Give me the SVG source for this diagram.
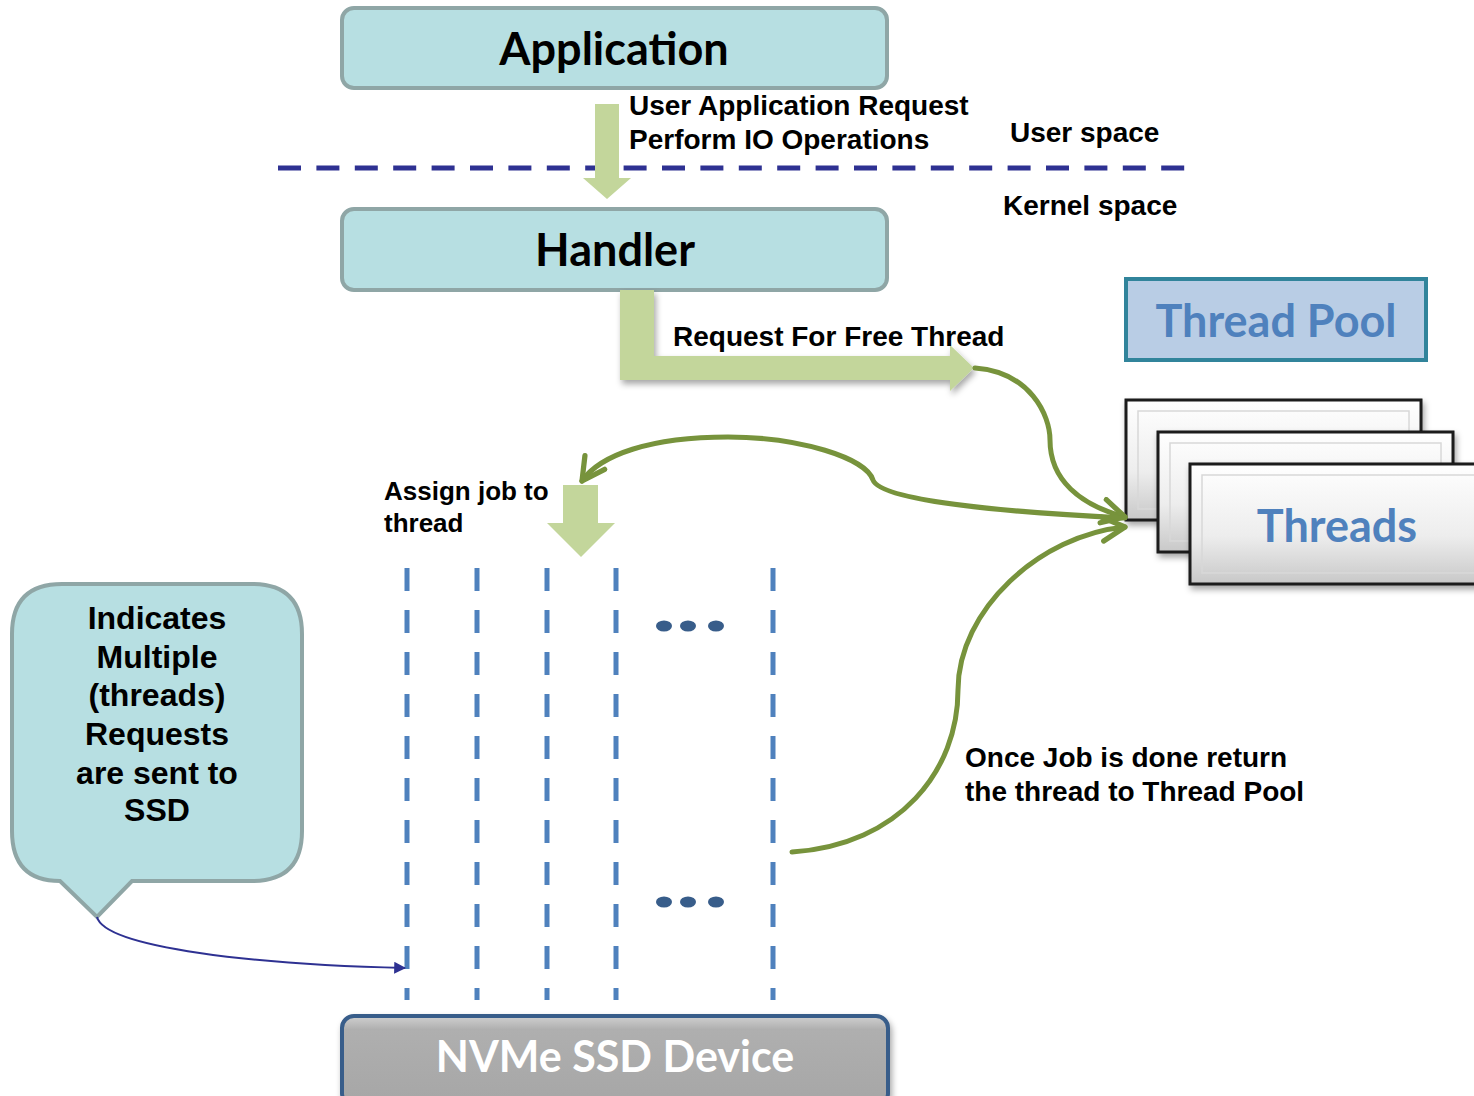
<svg xmlns="http://www.w3.org/2000/svg" width="1474" height="1096" viewBox="0 0 1474 1096">
<defs>
<style>
.lbl{font-family:"Liberation Sans",Arial,sans-serif;font-weight:bold;font-size:28px;fill:#000}
.lbl2{font-family:"Liberation Sans",Arial,sans-serif;font-weight:bold;font-size:26px;fill:#000}
.big{font-family:Lato,"Open Sans",sans-serif;font-weight:bold;font-size:45px;text-anchor:middle}
.box{fill:#B7DFE2;stroke:#8FA6A6;stroke-width:4}
.blk{fill:#C3D69B}
.green{fill:none;stroke:#77933C;stroke-width:5;stroke-linecap:round}
.vdash{stroke:#4F81BD;stroke-width:5;stroke-dasharray:23 19}
.dot{fill:#385D8A}
.thr{fill:url(#thrGrad);stroke:#1a1a1a;stroke-width:3}
.bev{fill:none;stroke:#d8d8d8;stroke-width:1.5}
.call{font-family:"Liberation Sans",Arial,sans-serif;font-weight:bold;font-size:32px;text-anchor:middle}
</style>
<linearGradient id="thrGrad" x1="0" y1="0" x2="0" y2="1">
<stop offset="0" stop-color="#FFFFFF"/>
<stop offset="0.6" stop-color="#EDEDED"/>
<stop offset="1" stop-color="#C8C8C8"/>
</linearGradient>
<linearGradient id="ssdGrad" x1="0" y1="0" x2="0" y2="1">
<stop offset="0" stop-color="#D0D0D0"/>
<stop offset="0.15" stop-color="#AFAFAF"/>
<stop offset="1" stop-color="#A6A6A6"/>
</linearGradient>
<marker id="open" viewBox="0 0 20 20" refX="17" refY="10" markerWidth="6" markerHeight="6" markerUnits="strokeWidth" orient="auto">
<path d="M2,2 L17,10 L2,18" fill="none" stroke="#77933C" stroke-width="3.5" stroke-linecap="round" stroke-linejoin="round"/>
</marker>
<marker id="navy" viewBox="0 0 10 10" refX="9" refY="5" markerWidth="12" markerHeight="12" markerUnits="userSpaceOnUse" orient="auto">
<path d="M0,0 L10,5 L0,10 z" fill="#2E3192"/>
</marker>
<filter id="sh" x="-10%" y="-10%" width="130%" height="140%">
<feDropShadow dx="2" dy="4" stdDeviation="3" flood-color="#000" flood-opacity="0.35"/>
</filter>
</defs>
<rect width="1474" height="1096" fill="#fff"/>

<g id="boundary">
<line x1="278" y1="168" x2="1186" y2="168" stroke="#2E3192" stroke-width="5" stroke-dasharray="23 15.4"/>
<text class="lbl" x="1010" y="142">User space</text>
<text class="lbl" x="1003" y="215">Kernel space</text>
</g>

<g id="application">
<rect class="box" x="342" y="8" width="545" height="80" rx="12"/>
<text class="big" x="614" y="65" fill="#000">Application</text>
</g>

<g id="handler">
<rect class="box" x="342" y="209" width="545" height="81" rx="12"/>
<text class="big" x="615" y="266" fill="#000">Handler</text>
</g>

<g id="thread-pool">
<rect x="1126" y="279" width="300" height="81" fill="#B9CDE5" stroke="#31849B" stroke-width="4"/>
<text class="big" x="1276" y="337" fill="#4F81BD">Thread Pool</text>
</g>

<g id="threads">
<rect class="thr" x="1126" y="400" width="295" height="120" filter="url(#sh)"/>
<rect class="bev" x="1138" y="411" width="271" height="98"/>
<rect class="thr" x="1158" y="432" width="295" height="120" filter="url(#sh)"/>
<rect class="bev" x="1170" y="443" width="271" height="98"/>
<rect class="thr" x="1190" y="464" width="290" height="120" filter="url(#sh)"/>
<rect class="bev" x="1202" y="475" width="280" height="98"/>
<text class="big" x="1337" y="542" fill="#4F81BD">Threads</text>
</g>

<g id="callout">
<path class="box" d="M62,584 H252 Q302,584 302,634 V831 Q302,881 252,881 H132 L97,917 L60,881 Q12,881 12,831 V634 Q12,584 62,584 Z"/>
<text class="call" x="157" y="629">Indicates</text>
<text class="call" x="157" y="668">Multiple</text>
<text class="call" x="157" y="706">(threads)</text>
<text class="call" x="157" y="745">Requests</text>
<text class="call" x="157" y="784">are sent to</text>
<text class="call" x="157" y="821">SSD</text>
</g>

<g id="request-lanes">
<line class="vdash" x1="407" y1="568" x2="407" y2="1000"/>
<line class="vdash" x1="477" y1="568" x2="477" y2="1000"/>
<line class="vdash" x1="547" y1="568" x2="547" y2="1000"/>
<line class="vdash" x1="616" y1="568" x2="616" y2="1000"/>
<line class="vdash" x1="773" y1="568" x2="773" y2="1000"/>
<ellipse class="dot" cx="664" cy="626" rx="8" ry="5.5"/>
<ellipse class="dot" cx="688" cy="626" rx="8" ry="5.5"/>
<ellipse class="dot" cx="716" cy="626" rx="8" ry="5.5"/>
<ellipse class="dot" cx="664" cy="902" rx="8" ry="5.5"/>
<ellipse class="dot" cx="688" cy="902" rx="8" ry="5.5"/>
<ellipse class="dot" cx="716" cy="902" rx="8" ry="5.5"/>
</g>

<g id="nvme">
<rect x="342" y="1016" width="546" height="90" rx="12" fill="url(#ssdGrad)" stroke="#385D8A" stroke-width="4" filter="url(#sh)"/>
<text class="big" x="615" y="1072" fill="#fff" style="font-size:43px">NVMe SSD Device</text>
</g>

<g id="connectors">
<path class="blk" d="M595,104 H619 V178 H631 L607,199 L583,178 H595 Z"/>
<path class="blk" filter="url(#sh)" d="M620,290 H654 V356 H950 V345 L974,368 L950,391 V380 H620 Z"/>
<path class="blk" d="M563,485 H598 V523 H615 L581,557 L547,523 H563 Z"/>
<path class="green" marker-end="url(#open)" d="M975,368 C1030,372 1050,415 1050,440 C1050,480 1080,505 1125,517"/>
<path class="green" marker-end="url(#open)" d="M1125,518 C1000,512 880,500 873,480 C866,458 800,437 728,437 C650,437 600,455 582,481"/>
<path class="green" marker-end="url(#open)" d="M792,852 C900,845 958,770 958,690 C958,610 1040,535 1125,527"/>
<path d="M97,917 C105,948 260,965 405,968" fill="none" stroke="#2E3192" stroke-width="2" marker-end="url(#navy)"/>
</g>

<g id="labels">
<text class="lbl" x="629" y="115">User Application Request</text>
<text class="lbl" x="629" y="149">Perform IO Operations</text>
<text class="lbl" x="673" y="346">Request For Free Thread</text>
<text class="lbl2" x="384" y="500">Assign job to</text>
<text class="lbl2" x="384" y="532">thread</text>
<text class="lbl" x="965" y="767">Once Job is done return</text>
<text class="lbl" x="965" y="801">the thread to Thread Pool</text>
</g>
</svg>
